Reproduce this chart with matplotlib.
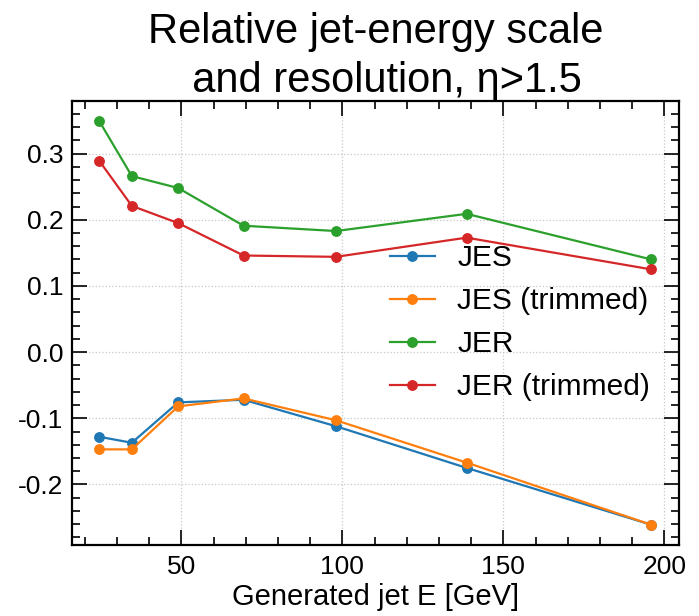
import matplotlib
matplotlib.use("Agg")
import matplotlib.pyplot as plt
from matplotlib.ticker import MultipleLocator, AutoMinorLocator

plt.rcParams["font.family"] = ["Liberation Sans", "DejaVu Sans"]

# generated jet energy bin centres [GeV]
energy = [24.5, 34.6, 49.0, 69.3, 98.0, 138.6, 196.0]

jes = [-0.128, -0.137, -0.076, -0.072, -0.112, -0.175, -0.261]
jes_trimmed = [-0.147, -0.147, -0.082, -0.070, -0.103, -0.167, -0.261]
jer = [0.349, 0.266, 0.248, 0.191, 0.183, 0.209, 0.140]
jer_trimmed = [0.289, 0.221, 0.195, 0.146, 0.144, 0.173, 0.125]

labels = ["JES", "JES (trimmed)", "JER", "JER (trimmed)"]
colors = ["#1f77b4", "#ff7f0e", "#2ca02c", "#d62728"]

fig = plt.figure(figsize=(6.99, 6.16), dpi=100)
ax = fig.add_axes([0.1026, 0.1153, 0.8688, 0.7207])

for series, label, color in zip([jes, jes_trimmed, jer, jer_trimmed], labels, colors):
    ax.plot(energy, series, "-o", color=color, label=label, lw=1.6, ms=6.8)

ax.set_title("Relative jet-energy scale\n  and resolution, η>1.5", fontsize=30, pad=1,
             linespacing=1.3)
ax.set_xlabel("Generated jet E [GeV]", fontsize=21, labelpad=3)

ax.xaxis.set_major_locator(MultipleLocator(50))
ax.xaxis.set_minor_locator(AutoMinorLocator(5))
ax.yaxis.set_major_locator(MultipleLocator(0.1))
ax.yaxis.set_minor_locator(AutoMinorLocator(5))
ax.yaxis.set_major_formatter(matplotlib.ticker.FormatStrFormatter("%.1f"))

ax.tick_params(which="both", direction="in", top=True, right=True, labelsize=19, width=1.2)
ax.tick_params(which="major", length=11)
ax.tick_params(which="minor", length=6)
ax.tick_params(axis="x", pad=7)
ax.tick_params(axis="y", pad=6)
for spine in ax.spines.values():
    spine.set_linewidth(1.6)

ax.grid(True, which="major", ls=":", color="#c8c8c8", lw=0.9)

ax.legend(loc="upper left", bbox_to_anchor=(0.48, 0.738), frameon=False, fontsize=21.5,
          handlelength=1.5, labelspacing=0.5, handletextpad=0.75)

fig.savefig("out.png", dpi=100)
